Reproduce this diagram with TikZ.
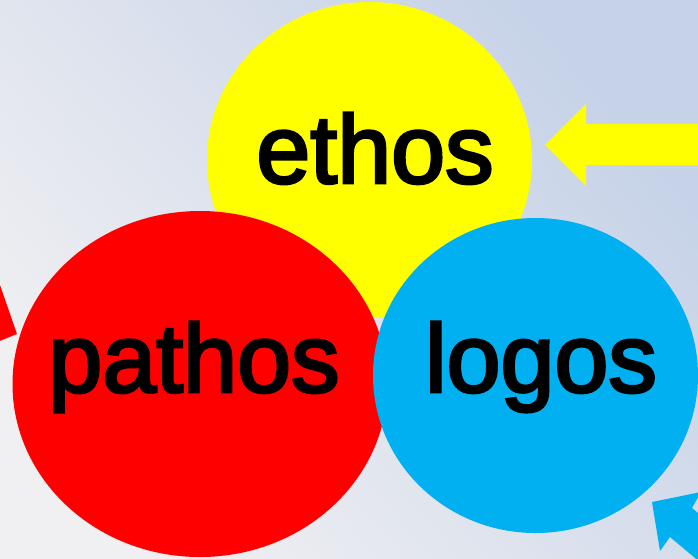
\documentclass[tikz,border=0pt]{standalone}
\usepackage{fontspec}
\setmainfont{Liberation Sans}[FakeBold=3]
\usetikzlibrary{shapes.geometric}

\definecolor{ethosyellow}{RGB}{255,255,0}
\definecolor{pathosred}{RGB}{255,0,0}
\definecolor{logosblue}{RGB}{0,176,240}
\definecolor{bglight}{RGB}{240,240,242}
\definecolor{bgblue}{RGB}{198,210,232}

\tikzset{
  blob/.style={ellipse, fill=#1, inner sep=0pt},
  word/.style={anchor=base, inner sep=0pt, font=\fontsize{97}{100}\selectfont},
}

\begin{document}
\begin{tikzpicture}[x=1pt, y=-1pt]
    \useasboundingbox (0,0) rectangle (698,558);
    \shade[bottom color=bglight, top color=bgblue, shading angle=-50] (0,0) rectangle (698,558);
    \clip (0,0) rectangle (698,558);
    % the three appeals
    \node[blob=ethosyellow, minimum width=325pt, minimum height=316pt] (ethos) at (369.5,160) {};
    \node[blob=pathosred, minimum width=375pt, minimum height=346pt] (pathos) at (200,384) {};
    \node[blob=logosblue, minimum width=325pt, minimum height=315pt] (logos) at (535.5,375.5) {};
    \node[word] (ethoslabel) at (375,183) {ethos};
    \node[word] (pathoslabel) at (194,392) {pathos};
    \node[word] (logoslabel) at (541,392) {logos};
    % arrows coming in from the edges
    \fill[ethosyellow] (545,145) -- (586,104) -- (586,124) -- (705,124) -- (705,165) -- (586,165) -- (586,186) -- cycle;
    \fill[pathosred] (-8,262) -- (17,334) -- (-8,344) -- cycle;
    \fill[logosblue] (652,502) -- (701,492) -- (692,508) -- (723,534) -- (701,563) -- (670,537) -- (660,551) -- cycle;
\end{tikzpicture}
\end{document}
